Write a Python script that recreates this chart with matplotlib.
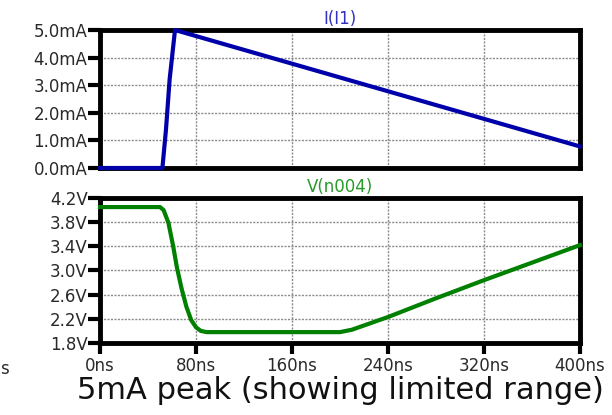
import numpy as np
import matplotlib.pyplot as plt

# waveform samples (time in ns)
t_i = [0, 52, 55, 58, 62.5, 100, 160, 240, 320, 400]
i_ma = [0.0, 0.0, 1.4, 3.2, 5.0, 4.53, 3.78, 2.78, 1.78, 0.78]

t_v = [0, 50, 53, 57, 61, 64, 68, 72, 76, 80, 84, 89, 100, 160, 200, 210, 220, 240, 280, 320, 360, 400]
v_n004 = [4.05, 4.05, 4.0, 3.79, 3.4, 3.06, 2.7, 2.4, 2.18, 2.06, 2.0, 1.98, 1.98, 1.98, 1.98, 2.02, 2.09,
          2.23, 2.54, 2.84, 3.13, 3.42]

x_ticks = [0, 80, 160, 240, 320, 400]
x_labels = ["0ns", "80ns", "160ns", "240ns", "320ns", "400ns"]
i_ticks = [0, 1, 2, 3, 4, 5]
i_labels = ["0.0mA", "1.0mA", "2.0mA", "3.0mA", "4.0mA", "5.0mA"]
v_ticks = [1.8, 2.2, 2.6, 3.0, 3.4, 3.8, 4.2]
v_labels = ["1.8V", "2.2V", "2.6V", "3.0V", "3.4V", "3.8V", "4.2V"]

fig = plt.figure(figsize=(6.12, 4.15), dpi=100)
ax1 = fig.add_axes([0.1634, 0.5952, 0.7843, 0.3325])
ax2 = fig.add_axes([0.1634, 0.1735, 0.7843, 0.3494])


def style_axes(ax):
    for s in ax.spines.values():
        s.set_linewidth(3.5)
        s.set_color("black")
    ax.set_xlim(0, 400)
    ax.set_xticks(x_ticks)
    ax.grid(True, color="#8c8c8c", linestyle=(0, (1.5, 1)), linewidth=1.0)
    ax.tick_params(axis="y", length=9, width=3, labelsize=12, labelcolor="#2a2a2a", pad=0)
    ax.tick_params(axis="x", length=8, width=3, labelsize=12, labelcolor="#2a2a2a", pad=2)


ax1.plot(t_i, i_ma, color="#0000aa", linewidth=3, zorder=5, clip_on=False)
style_axes(ax1)
ax1.set_ylim(0, 5)
ax1.set_yticks(i_ticks)
ax1.set_yticklabels(i_labels)
ax1.tick_params(axis="x", bottom=False, labelbottom=False)
ax1.set_title("I(I1)", color="#3030c0", fontsize=12, pad=4)

ax2.plot(t_v, v_n004, color="#008000", linewidth=3, zorder=5, clip_on=False)
style_axes(ax2)
ax2.set_ylim(1.8, 4.2)
ax2.set_yticks(v_ticks)
ax2.set_yticklabels(v_labels)
ax2.set_xticklabels(x_labels)
ax2.set_title("V(n004)", color="#2a9a2a", fontsize=12, pad=4)
ax2.set_xlabel("5mA peak (showing limited range)", fontsize=22, color="#111111", labelpad=1)

fig.text(0.0, 0.112, "s", fontsize=12, color="#2a2a2a", va="center")

plt.savefig("out.png", dpi=100)
